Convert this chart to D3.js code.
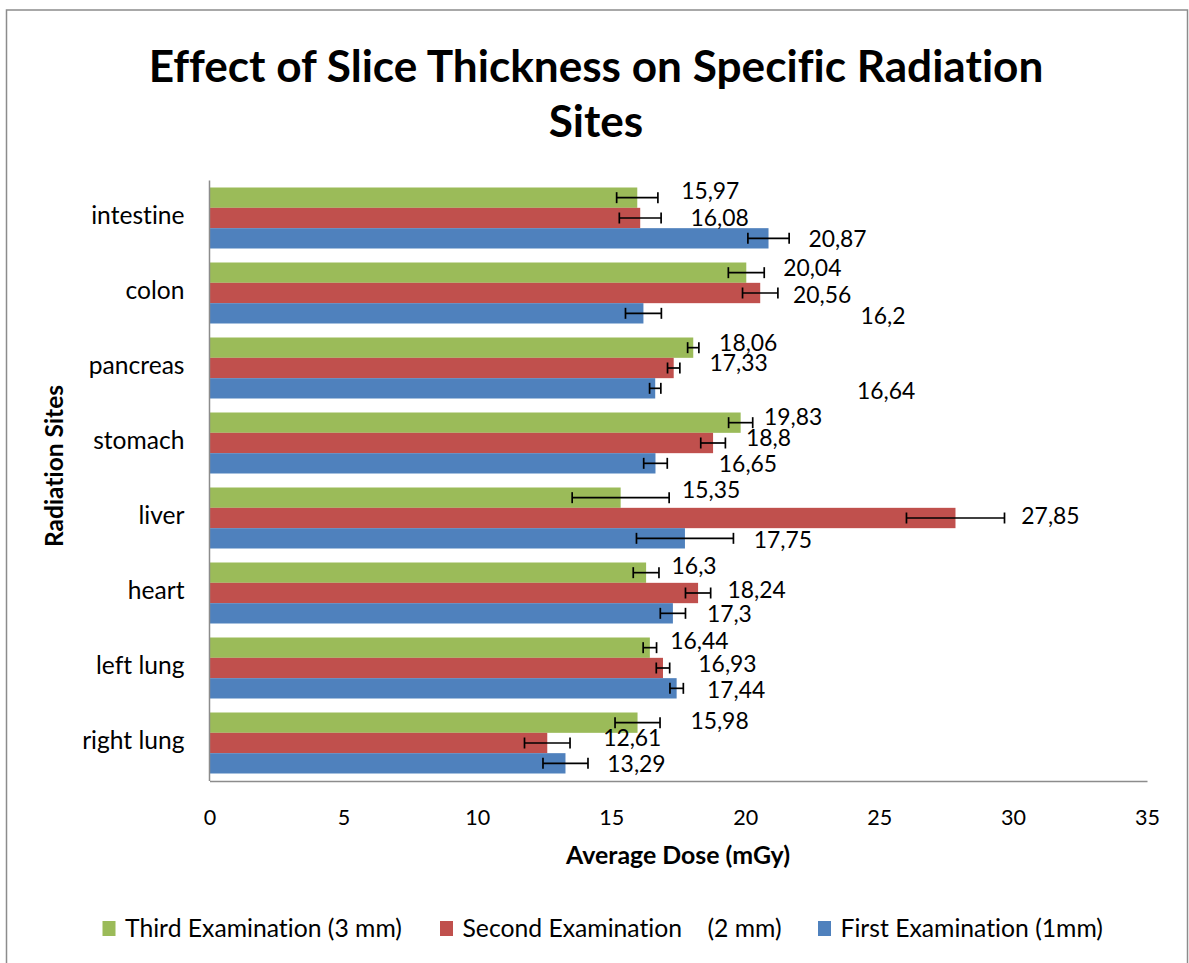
<!DOCTYPE html>
<html>
<head>
<meta charset="utf-8">
<script src="https://cdn.jsdelivr.net/npm/d3@7/dist/d3.min.js"></script>
<style>
  html, body { margin: 0; padding: 0; background: #fff; }
  svg { display: block; }
  text { font-family: Lato, "Open Sans", sans-serif; fill: #000;
         font-variant-ligatures: none; font-feature-settings: "liga" 0, "clig" 0, "dlig" 0; }
</style>
</head>
<body>
<svg id="chart" width="1189" height="963"></svg>
<script>
// ---------------- DATA ----------------
const categories = ["intestine", "colon", "pancreas", "stomach", "liver", "heart", "left lung", "right lung"];
const seriesNames = ["Third Examination (3 mm)", "Second Examination    (2 mm)", "First Examination (1mm)"];
const thirdExam  = [15.97, 20.04, 18.06, 19.83, 15.35, 16.3, 16.44, 15.98];
const secondExam = [16.08, 20.56, 17.33, 18.8, 27.85, 18.24, 16.93, 12.61];
const firstExam  = [20.87, 16.2, 16.64, 16.65, 17.75, 17.3, 17.44, 13.29];
const thirdErr   = [0.77, 0.67, 0.21, 0.45, 1.81, 0.48, 0.25, 0.84];
const secondErr  = [0.78, 0.66, 0.23, 0.46, 1.83, 0.47, 0.25, 0.85];
const firstErr   = [0.77, 0.67, 0.21, 0.44, 1.81, 0.47, 0.25, 0.84];
const xTicks = [0, 5, 10, 15, 20, 25, 30, 35];
const titleLines = ["Effect of Slice Thickness on Specific Radiation", "Sites"];
const xTitle = "Average Dose (mGy)";
const yTitle = "Radiation Sites";

// manual data-label placement nudges (px) from bar end / bar centre, as in the source
const thirdLabelNudge  = [[73,-7],[66,-5],[55,-4.5],[52.5,-5.5],[90.5,-8],[48,-7],[49.5,-7],[82,-1.5]];
const secondLabelNudge = [[79.5,0],[62,1.5],[65,-5],[55.5,-5.5],[95,-2.5],[58.5,-3.5],[64.5,-4.5],[85,-5]];
const firstLabelNudge  = [[69,0],[239.5,2.5],[231,2],[92.5,0],[98,1],[56.5,0],[59.5,1],[71,0]];

const colors = ["#9BBB59", "#C0504D", "#4F81BD"];

// ---------------- BUILD ----------------
const series = [
  { name: seriesNames[0], values: thirdExam,  errs: thirdErr,  nudge: thirdLabelNudge,  color: colors[0] },
  { name: seriesNames[1], values: secondExam, errs: secondErr, nudge: secondLabelNudge, color: colors[1] },
  { name: seriesNames[2], values: firstExam,  errs: firstErr,  nudge: firstLabelNudge,  color: colors[2] }
];

const svg = d3.select("#chart");

// helper: font size so that a sample string has a given width
function fitSize(sample, weight, target) {
  const t = svg.append("text").attr("font-size", 100).attr("font-weight", weight)
    .style("white-space", "pre").text(sample);
  const w = t.node().getComputedTextLength();
  t.remove();
  return 100 * target / w;
}

const fsTitle = fitSize(titleLines[0], 700, 895);
const fsLabel = fitSize("16,64", 400, 58.3);
const fsTick = fitSize("35", 400, 25);
const fsCat = fitSize("stomach", 400, 91.3);
const fsAxisTitle = fitSize(xTitle, 700, 224);
const fsYTitle = fitSize(yTitle, 700, 162);
const fsLegend = fitSize(seriesNames[0], 400, 277);

// outer frame
svg.append("rect").attr("x", 6.5).attr("y", 10).attr("width", 1181).attr("height", 1000)
  .attr("fill", "#fff").attr("stroke", "#8c8c8c").attr("stroke-width", 1.5);

// scales
const x = d3.scaleLinear().domain([0, 35]).range([209.5, 1147]);
const y = d3.scaleBand().domain(categories).range([180.5, 780.5])
  .paddingInner(14 / 75).paddingOuter(7 / 75);
const ySub = d3.scaleBand().domain(d3.range(series.length)).range([0, y.bandwidth()]);

// title
svg.append("g").selectAll("text").data(titleLines).join("text")
  .attr("x", 596).attr("y", (d, i) => 82 + i * 55)
  .attr("text-anchor", "middle").attr("font-weight", 700)
  .attr("font-size", fsTitle).text(d => d);

// bars
const gBars = svg.append("g");
series.forEach((s, si) => {
  gBars.append("g").selectAll("rect").data(categories).join("rect")
    .attr("x", x(0))
    .attr("y", (c) => y(c) + ySub(si))
    .attr("width", (c, i) => x(s.values[i]) - x(0))
    .attr("height", ySub.bandwidth())
    .attr("fill", s.color);
});

// error bars
const gErr = svg.append("g").attr("stroke", "#000").attr("stroke-width", 1.7).attr("fill", "none");
series.forEach((s, si) => {
  categories.forEach((c, i) => {
    const cy = y(c) + ySub(si) + ySub.bandwidth() / 2;
    const x1 = x(s.values[i] - s.errs[i]), x2 = x(s.values[i] + s.errs[i]);
    gErr.append("line").attr("x1", x1).attr("x2", x2).attr("y1", cy).attr("y2", cy);
    gErr.append("line").attr("x1", x1).attr("x2", x1).attr("y1", cy - 5.5).attr("y2", cy + 5.5);
    gErr.append("line").attr("x1", x2).attr("x2", x2).attr("y1", cy - 5.5).attr("y2", cy + 5.5);
  });
});

// data labels
const gLab = svg.append("g").attr("font-size", fsLabel).attr("text-anchor", "middle");
series.forEach((s, si) => {
  gLab.append("g").selectAll("text").data(categories).join("text")
    .attr("x", (c, i) => x(s.values[i]) + s.nudge[i][0])
    .attr("y", (c, i) => y(c) + ySub(si) + ySub.bandwidth() / 2 + s.nudge[i][1] + fsLabel * 0.36)
    .text((c, i) => String(s.values[i]).replace(".", ","));
});

// axes
const xAxis = d3.axisBottom(x).tickValues(xTicks).tickSize(0).tickPadding(0).tickFormat(d3.format("d"));
const gx = svg.append("g").attr("transform", "translate(0,781)").call(xAxis);
gx.select(".domain").attr("stroke", "#8c8c8c").attr("stroke-width", 1.5);
gx.selectAll(".tick text").attr("font-size", fsTick).attr("dy", null).attr("y", 44)
  .style("font-family", "Lato, 'Open Sans', sans-serif").attr("fill", "#000");

const yAxis = d3.axisLeft(y).tickSize(0).tickPadding(25);
const gy = svg.append("g").attr("transform", "translate(209.5,0)").call(yAxis);
gy.select(".domain").attr("d", "M0,180.5V781").attr("stroke", "#8c8c8c").attr("stroke-width", 1.5);
gy.selectAll(".tick text").attr("font-size", fsCat).attr("dy", null).attr("y", 5.5)
  .style("font-family", "Lato, 'Open Sans', sans-serif").attr("fill", "#000");

// axis titles
svg.append("text").attr("x", 678).attr("y", 864).attr("text-anchor", "middle")
  .attr("font-weight", 700).attr("font-size", fsAxisTitle).text(xTitle);
svg.append("text").attr("transform", "translate(63,466) rotate(-90)").attr("text-anchor", "middle")
  .attr("font-weight", 700).attr("font-size", fsYTitle).text(yTitle);

// legend
const legendX = [102.5, 440, 818];
const gLeg = svg.append("g");
series.forEach((s, si) => {
  gLeg.append("rect").attr("x", legendX[si]).attr("y", 921).attr("width", 13).attr("height", 15).attr("fill", s.color);
  gLeg.append("text").attr("x", legendX[si] + 22.5).attr("y", 937)
    .attr("font-size", fsLegend).style("white-space", "pre").text(s.name);
});
</script>
</body>
</html>
